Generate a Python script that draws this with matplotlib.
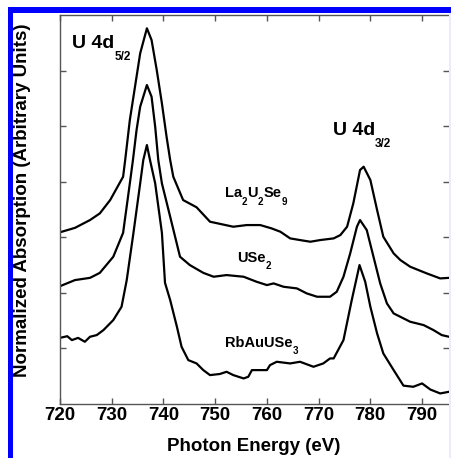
import matplotlib
matplotlib.use("Agg")
import matplotlib.pyplot as plt
from matplotlib.patches import Rectangle

# ---------------- data ----------------
energy_ticks = [720, 730, 740, 750, 760, 770, 780, 790]
y_ticks = [1, 2, 3, 4, 5, 6]

la_E = [720.0, 722.9, 725.8, 727.7, 729.7, 732.2, 732.6, 733.5, 734.5, 735.5, 736.8,
        737.7, 738.7, 739.7, 740.6, 741.3, 741.9, 743.8, 746.4, 749.0, 753.5, 756.1,
        758.7, 760.9, 762.6, 764.5, 766.4, 768.4, 770.3, 772.9, 774.2, 775.5, 776.7,
        778.0, 778.7, 780.0, 781.3, 782.5, 784.5, 785.8, 787.7, 790.9, 793.5, 795.2]
la_y = [3.09, 3.17, 3.31, 3.43, 3.67, 4.09, 4.39, 5.11, 5.71, 6.31, 6.76,
        6.55, 6.01, 5.41, 4.81, 4.39, 4.09, 3.67, 3.54, 3.28, 3.19, 3.22,
        3.22, 3.16, 3.10, 2.98, 2.95, 2.92, 2.95, 2.98, 3.04, 3.19, 3.61,
        4.21, 4.27, 4.03, 3.49, 3.01, 2.71, 2.59, 2.47, 2.35, 2.26, 2.27]

use_E = [720.0, 722.9, 725.8, 727.7, 730.3, 732.2, 733.5, 734.1, 734.8, 735.5, 736.8,
         737.7, 738.4, 739.0, 739.7, 741.3, 743.2, 745.1, 747.7, 749.7, 752.2, 755.5,
         758.0, 760.0, 761.3, 763.2, 765.8, 767.7, 769.7, 772.2, 773.5, 774.8, 776.1,
         777.4, 778.0, 779.3, 780.6, 781.9, 783.2, 784.5, 787.7, 790.3, 792.2, 793.8, 795.2]
use_y = [2.12, 2.23, 2.27, 2.36, 2.65, 3.08, 3.97, 4.39, 4.93, 5.35, 5.74,
         5.53, 4.99, 4.39, 3.97, 3.37, 2.65, 2.50, 2.36, 2.29, 2.32, 2.29,
         2.20, 2.14, 2.17, 2.11, 2.08, 1.99, 1.93, 1.93, 2.02, 2.29, 2.71,
         3.19, 3.31, 3.13, 2.65, 2.17, 1.81, 1.63, 1.48, 1.42, 1.33, 1.24, 1.21]

rb_E = [720.0, 721.4, 722.3, 723.5, 724.8, 725.8, 727.1, 728.4, 730.3, 731.9, 732.9,
        734.2, 735.5, 736.1, 736.8, 737.4, 738.4, 739.7, 740.3, 741.3, 742.6, 743.5,
        744.8, 746.4, 747.7, 749.0, 750.9, 752.2, 753.5, 755.5, 756.4, 757.1, 760.0,
        760.6, 761.9, 764.5, 766.4, 769.0, 770.9, 772.2, 772.9, 774.8, 776.4, 777.9,
        779.0, 780.0, 781.3, 782.5, 784.5, 786.4, 788.3, 790.0, 791.6, 793.5, 795.2]
rb_y = [1.19, 1.22, 1.15, 1.19, 1.12, 1.21, 1.24, 1.33, 1.51, 1.75, 2.23,
        3.08, 3.97, 4.39, 4.66, 4.39, 3.97, 3.08, 2.18, 1.87, 1.39, 1.03,
        0.79, 0.73, 0.61, 0.52, 0.54, 0.58, 0.52, 0.46, 0.49, 0.61, 0.61,
        0.70, 0.76, 0.73, 0.76, 0.67, 0.73, 0.82, 0.82, 1.15, 1.87, 2.50,
        2.20, 1.75, 1.27, 0.91, 0.61, 0.33, 0.31, 0.37, 0.26, 0.19, 0.22]

x_label = "Photon Energy (eV)"
y_label = "Normalized Absorption (Arbitrary Units)"

# ---------------- figure ----------------
W, H = 451, 458
DPI = 100
FONT = ["Liberation Sans", "DejaVu Sans"]
plt.rcParams["font.family"] = FONT
plt.rcParams["font.weight"] = "bold"

fig = plt.figure(figsize=(W / DPI, H / DPI), dpi=DPI)
fig.patch.set_facecolor("white")

def fx(px):
    return px / W

def fy(py):
    return 1 - py / H

ax = fig.add_axes([fx(60), fy(404), fx(449) - fx(60), fy(15) - fy(404)])
ax.set_xlim(720, 795.2)
ax.set_ylim(0, 7)

for E, y in ((la_E, la_y), (use_E, use_y), (rb_E, rb_y)):
    ax.plot(E, y, color="black", lw=1.6, solid_joinstyle="round")

spine_c = "#555555"
for side in ("left", "bottom", "top"):
    ax.spines[side].set_color(spine_c)
    ax.spines[side].set_linewidth(1.0)
ax.spines["right"].set_visible(False)

ax.set_xticks(energy_ticks)
ax.set_yticks(y_ticks)
ax.tick_params(axis="both", direction="in", length=4.5, width=1.0, color=spine_c)
ax.tick_params(axis="x", top=True, labelsize=13.5, pad=2)
ax.tick_params(axis="y", right=True, labelleft=False)
for lab in ax.get_xticklabels():
    lab.set_fontweight("bold")

fig.text(fx(254), fy(451), x_label, ha="center", va="baseline",
         fontsize=13.5, fontweight="bold")
fig.text(fx(23), fy(200), y_label, ha="center", va="center", rotation=90,
         fontsize=13.5, fontweight="bold")

renderer = fig.canvas.get_renderer()

def rich_text(px, py, pieces):
    x = px
    for s, fs, dy in pieces:
        t = fig.text(fx(x), fy(py + dy), s, fontsize=fs, fontweight="bold",
                     ha="left", va="baseline")
        bb = t.get_window_extent(renderer)
        x += bb.width

rich_text(72, 48, [("U 4d", 14, 0), ("5/2", 8.5, 12)])
rich_text(333, 135, [("U 4d", 14, 0), ("3/2", 8.5, 12)])
rich_text(225, 197, [("La", 10.5, 0), ("2", 7, 8), ("U", 10.5, 0), ("2", 7, 8),
                     ("Se", 10.5, 0), ("9", 7, 8)])
rich_text(237, 262, [("USe", 10.5, 0), ("2", 7, 7)])
rich_text(225, 347, [("RbAuUSe", 10.5, 0), ("3", 7, 7)])

# blue frame (top and left) and pale strip on the right edge
fig.add_artist(Rectangle((fx(8), fy(12.7)), 1 - fx(8), fy(7) - fy(12.7),
                         transform=fig.transFigure, color="#0000ff", lw=0))
fig.add_artist(Rectangle((fx(8), 0), fx(13) - fx(8), fy(7),
                         transform=fig.transFigure, color="#0000ff", lw=0))
fig.add_artist(Rectangle((fx(449.2), 0), 1 - fx(449.2), fy(12.7),
                         transform=fig.transFigure, color="#ebebff", lw=0))

fig.savefig("out.png", dpi=DPI, facecolor="white")
